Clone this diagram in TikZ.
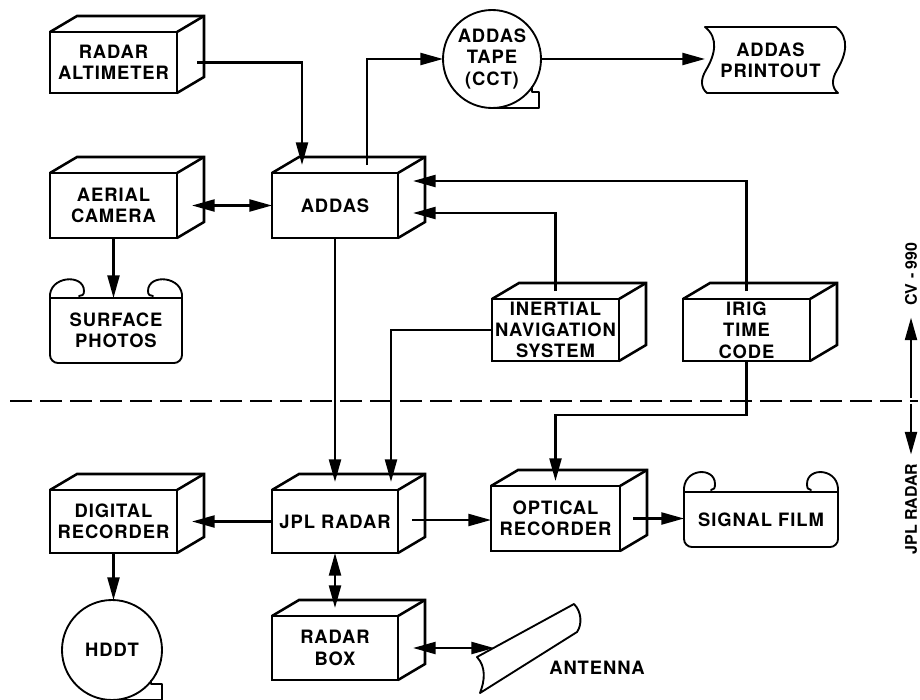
\documentclass[tikz,border=0pt]{standalone}
\usepackage{fontspec}
\setmainfont{TeX Gyre Heros}[LetterSpace=5]
\usetikzlibrary{calc,arrows.meta}

\tikzset{
  lbl/.style={font=\bfseries\fontsize{13.8}{16}\selectfont, align=center, inner sep=0pt, outer sep=0pt},
  sidelbl/.style={font=\bfseries\fontsize{12}{14}\selectfont\addfontfeature{LetterSpace=0}, inner sep=0pt, outer sep=0pt, rotate=90},
  cubefront/.style={lbl, draw, line width=1.9pt, rectangle},
  cubeline/.style={line width=1.9pt},
  outline/.style={line width=1.4pt, line join=round, line cap=round},
  tip/.tip={Triangle[length=17pt,width=9pt]},
  flow/.style={line width=1.7pt, -tip},
  flowboth/.style={line width=1.7pt, tip-tip},
}

% 3D box: name, x1, y1, x2, y2 (front face), text
\newcommand{\cubebox}[6]{%
  \node[cubefront, minimum width={(#4-#2)*0.75pt}, minimum height={(#5-#3)*0.75pt}]
    (#1) at ({(#2+#4)/2},{(#3+#5)/2}) {#6};
  \draw[cubeline] (#1.north west) -- ++(27,-16) -- ($(#1.north east)+(27,-16)$)
    -- ($(#1.south east)+(27,-16)$) -- (#1.south east);
  \draw[cubeline] (#1.north east) -- ++(27,-16);
}

\begin{document}
\begin{tikzpicture}[x=0.75pt,y=-0.75pt]
\useasboundingbox (0,0) rectangle (920,699);

% equipment boxes
\cubebox{ralt}{50}{32}{177}{93}{RADAR\\ALTIMETER}
\cubebox{aerial}{50}{173}{177}{238}{AERIAL\\CAMERA}
\cubebox{addas}{272}{173}{398}{238}{ADDAS}
\cubebox{ins}{492}{299}{619}{361}{INERTIAL\\NAVIGATION\\SYSTEM}
\cubebox{irig}{683}{299}{810}{361}{IRIG\\TIME\\CODE}
\cubebox{digrec}{50}{490}{177}{553}{DIGITAL\\RECORDER}
\cubebox{jpl}{272}{490}{398}{553}{JPL RADAR}
\cubebox{optrec}{491}{486}{620}{551}{OPTICAL\\RECORDER}
\cubebox{rbox}{272}{616}{398}{680}{RADAR\\BOX}

% magnetic tapes
\node[lbl, circle, draw, line width=1.4pt, minimum size=73.5pt] (tape) at (492,59) {ADDAS\\TAPE\\(CCT)};
\draw[outline] ($(tape.center)+(35:49)$) -- ++(0,5) -- ++(7,0) |- ($(tape.center)+(0,49)$);
\node[lbl, circle, draw, line width=1.4pt, minimum size=75pt] (hddt) at (112,650) {HDDT};
\draw[outline] ($(hddt.center)+(38:50)$) -- ++(0,3) -- ++(11,0) |- ($(hddt.center)+(0,50)$);

% printout with torn edges
\node[lbl, minimum width=98.25pt, minimum height=49.5pt] (printout) at (770.5,60) {ADDAS\\PRINTOUT};
\draw[outline] (printout.north west) -- (printout.north east);
\draw[outline] ($(printout.south west)+(2,0)$) -- ($(printout.south east)+(2,0)$);
\draw[outline] (printout.north west) .. controls +(14,11) and +(9,-15) .. ++(1,43)
  .. controls +(-6,10) and +(-6,-5) .. ++(1,23);
\draw[outline] (printout.north east) .. controls +(14,11) and +(9,-15) .. ++(1,43)
  .. controls +(-6,10) and +(-6,-5) .. ++(1,23);

% surface photos scroll
\node[lbl, minimum width=99pt, minimum height=48.75pt] (photos) at (116,330.5) {SURFACE\\PHOTOS};
\draw[outline, rounded corners=6pt] (photos.north west) -- (photos.south west) -- (photos.south east) -- (photos.north east);
\draw[outline] (photos.north west) -- (photos.north east);
\draw[outline] (photos.north west) .. controls +(-2,-22) and +(0,-18) .. ($(photos.north west)+(34,-7)$)
  .. controls +(0,4) and +(3,0) .. ($(photos.north west)+(29,-2)$);
\draw[outline] (photos.north east) .. controls +(2,-22) and +(0,-18) .. ($(photos.north east)+(-34,-7)$)
  .. controls +(0,4) and +(-3,0) .. ($(photos.north east)+(-29,-2)$);

% signal film scroll
\node[lbl, minimum width=115.5pt, minimum height=41.25pt] (film) at (761,519.5) {SIGNAL FILM};
\draw[outline, rounded corners=6pt] (film.north west) -- (film.south west) -- (film.south east) -- (film.north east);
\draw[outline] (film.north west) -- (film.north east);
\draw[outline] (film.north west) .. controls +(-2,-24) and +(0,-18) .. ($(film.north west)+(31,-8)$)
  .. controls +(0,4) and +(3,0) .. ($(film.north west)+(27,-2)$);
\draw[outline] (film.north east) .. controls +(2,-24) and +(0,-18) .. ($(film.north east)+(-31,-8)$)
  .. controls +(0,4) and +(-3,0) .. ($(film.north east)+(-27,-2)$);

% antenna
\draw[outline] (477,657) -- (574,604) .. controls (582,612) and (582,625) .. (577,632)
  -- (480,693) .. controls (485,680) and (486,667) .. cycle;
\coordinate (antenna) at (494,648);
\node[lbl] (antlabel) at (597,668) {ANTENNA};

% aircraft / radar boundary
\coordinate (divL) at (10,401);
\coordinate (divR) at (918,401);
\draw[line width=1.6pt, dash pattern=on 16.5pt off 6pt] (divL) -- (divR);
\coordinate (divmark) at (911,401);
\node[sidelbl] (cv) at (911,274) {CV - 990};
\node[sidelbl] (jplr) at (911,509) {JPL RADAR};
\draw[flow] ($(divmark)+(0,-3)$) -- ($(cv.west)+(0,12)$);
\draw[flow] ($(divmark)+(0,3)$) -- ($(jplr.east)+(0,-9)$);

% signal flow
\draw[flow] ($(ralt.east)+(20,0)$) -| ($(addas.north)+(-33,-8)$);
\draw[flow] ($(addas.north)+(32,-8)$) |- (tape.west);
\draw[flow] (tape.east) -- (tape.east -| printout.west);
\draw[flowboth] ($(aerial.east)+(15,0)$) -- (addas.west);
\draw[flow] (aerial.south) -- (aerial.south |- photos.north);
\draw[flow] ($(irig.north)+(0,-8)$) |- ($(addas.east)+(15,-24.5)$);
\draw[flow] ($(ins.north)+(0,-8)$) |- ($(addas.east)+(15,7.5)$);
\draw[flow] (addas.south) -- ($(jpl.north)+(0,-8)$);
\draw[flow] (ins.west) -| ($(jpl.north)+(56,-8)$);
\draw[flow] (irig.south) -- ++(0,54) -| ($(optrec.north)+(0,-5)$);
\coordinate (jplout) at ($(jpl.east)+(14,-1.5)$);
\draw[flow] (jplout) -- (jplout -| optrec.west);
\coordinate (optout) at ($(optrec.east)+(13,0)$);
\draw[flow] (optout) -- (optout -| film.west);
\draw[flow] (jpl.west) -- ($(digrec.east)+(15,0)$);
\draw[flow] (digrec.south) -- (digrec.south |- hddt.north);
\draw[flowboth] (jpl.south) -- ($(rbox.north)+(0,-8)$);
\draw[flowboth] ($(rbox.east)+(15,0)$) -- (antenna);
\end{tikzpicture}
\end{document}
